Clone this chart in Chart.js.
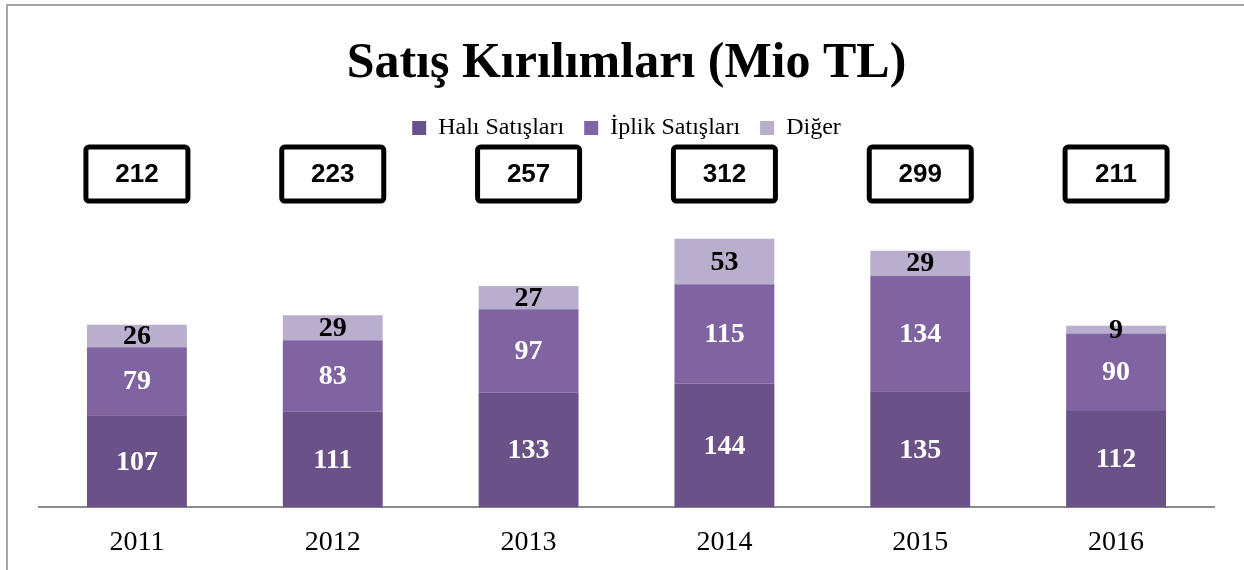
<!DOCTYPE html>
<html>
<head>
<meta charset="utf-8">
<script src="https://cdn.jsdelivr.net/npm/chart.js@4"></script>
<style>
  body { margin: 0; background: #fff; }
  #frame { position: absolute; left: 6px; top: 4px; width: 1300px; height: 600px;
           border-left: 2px solid #a6a6a6; border-top: 2px solid #a6a6a6; }
  #wrap { position: absolute; left: 0; top: 0; width: 1244px; height: 570px; }
</style>
</head>
<body>
<div id="frame"></div>
<div id="wrap"><canvas id="myChart" width="1244" height="570"></canvas></div>
<script>
var years = ["2011", "2012", "2013", "2014", "2015", "2016"];
var hali = [107, 111, 133, 144, 135, 112];
var iplik = [79, 83, 97, 115, 134, 90];
var diger = [26, 29, 27, 53, 29, 9];
var totals = [212, 223, 257, 312, 299, 211];
var totalRow = 387; // height (in axis units) where the total boxes sit

var barColors = ["#6a5187", "#8064a2", "#b9aecb"];
var labelColors = ["#ffffff", "#ffffff", "#000000"];

// labels inside the bars + boxes with totals
var labelPlugin = {
	id: "labels",
	afterDatasetsDraw: function (chart) {
		var ctx = chart.ctx;
		ctx.save();
		ctx.textAlign = "center";
		ctx.textBaseline = "middle";
		ctx.font = "bold 28px 'Liberation Serif'";
		chart.data.datasets.forEach(function (ds, i) {
			var meta = chart.getDatasetMeta(i);
			meta.data.forEach(function (bar, j) {
				ctx.fillStyle = labelColors[i];
				ctx.fillText(ds.data[j], bar.x, (bar.y + bar.base) / 2 + 1);
			});
		});
		var xs = chart.scales.x, ys = chart.scales.y;
		var cy = ys.getPixelForValue(totalRow);
		ctx.font = "bold 26px 'Liberation Sans'";
		for (var k = 0; k < totals.length; k++) {
			var cx = xs.getPixelForValue(k);
			ctx.lineWidth = 5;
			ctx.strokeStyle = "#000";
			ctx.beginPath();
			ctx.roundRect(cx - 51, cy - 27, 102, 54, 3);
			ctx.stroke();
			ctx.fillStyle = "#000";
			ctx.fillText(totals[k], cx, cy + 1);
		}
		ctx.restore();
	}
};

new Chart("myChart", {
	type: "bar",
	data: {
		labels: years,
		datasets: [
			{ label: "Halı Satışları", data: hali, backgroundColor: barColors[0] },
			{ label: "İplik Satışları", data: iplik, backgroundColor: barColors[1] },
			{ label: "Diğer", data: diger, backgroundColor: barColors[2] }
		]
	},
	options: {
		responsive: false,
		animation: false,
		layout: { padding: { left: 39, right: 30, bottom: 1 } },
		datasets: { bar: { categoryPercentage: 1, barPercentage: 0.51 } },
		scales: {
			x: {
				stacked: true,
				grid: { display: false },
				border: { color: "#8c8c8c", width: 2 },
				ticks: { color: "#000", font: { family: "'Liberation Serif'", size: 28 }, padding: 10 }
			},
			y: {
				stacked: true,
				min: 0,
				max: 415,
				display: false
			}
		},
		plugins: {
			title: {
				display: true,
				text: "Satış Kırılımları (Mio TL)",
				color: "#000",
				font: { family: "'Liberation Serif'", size: 50, weight: "bold" },
				padding: { top: 34, bottom: 2 }
			},
			legend: {
				labels: {
					color: "#000",
					boxWidth: 14,
					boxHeight: 14,
					font: { family: "'Liberation Serif'", size: 24 },
					padding: 20
				}
			},
			tooltip: { enabled: false }
		}
	},
	plugins: [labelPlugin]
});
</script>
</body>
</html>
